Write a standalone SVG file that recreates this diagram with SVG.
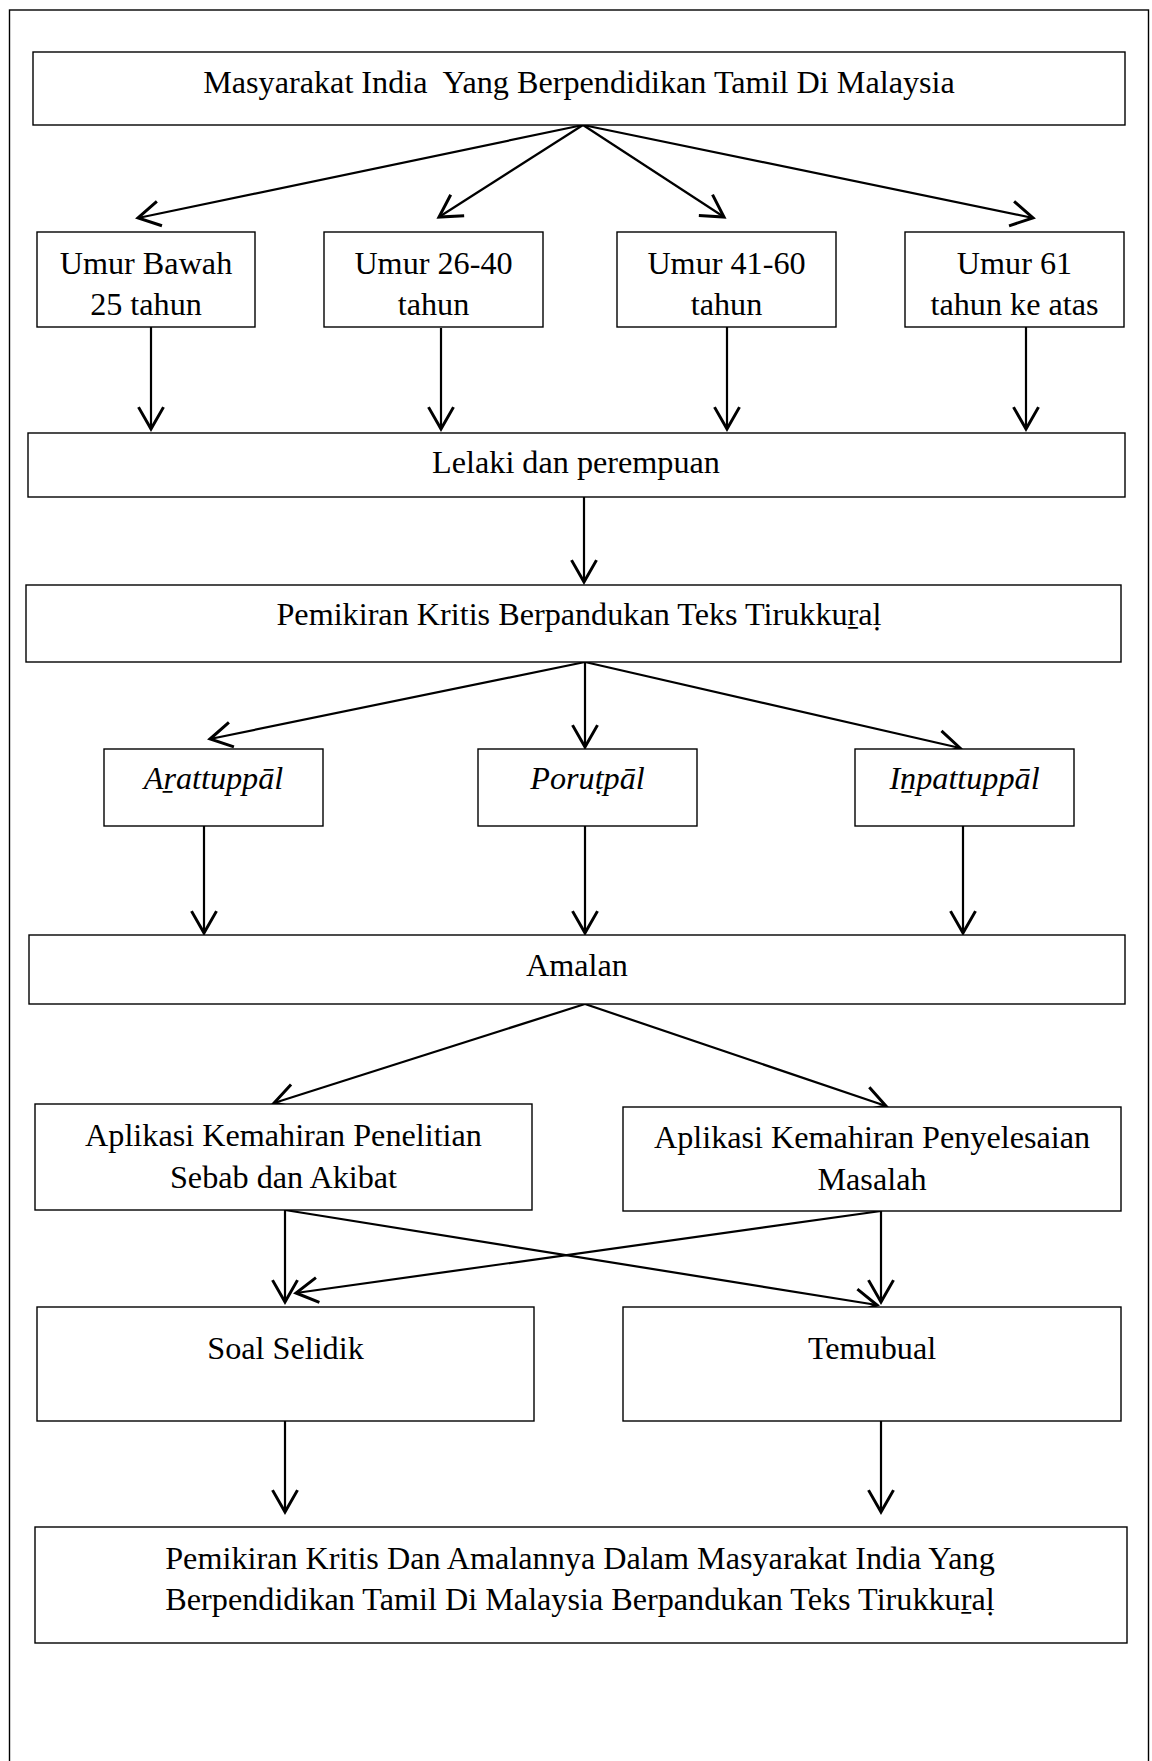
<svg xmlns="http://www.w3.org/2000/svg" width="1152" height="1761" viewBox="0 0 1152 1761">
<style>
.box{fill:#fff;stroke:#000;stroke-width:1.4}
.t{font-family:"Liberation Serif","Times New Roman",serif;font-size:32.2px;fill:#000;text-anchor:middle}
.i{font-style:italic}
.c{fill:none;stroke:#000;stroke-width:2.2}
</style>
<defs>
<marker id="ah" markerUnits="userSpaceOnUse" markerWidth="30" markerHeight="30" viewBox="-20 -12 24 24" refX="0" refY="0" orient="auto">
<path d="M-17.5,-10 L0,0 L-17.5,10" fill="none" stroke="#000" stroke-width="2.4"/>
</marker>
</defs>
<rect x="9.5" y="10" width="1139" height="1770" fill="none" stroke="#000" stroke-width="1.4"/>
<g id="connectors">
<line class="c" x1="583" y1="125" x2="138" y2="218" marker-end="url(#ah)"/>
<line class="c" x1="583" y1="125" x2="439" y2="217" marker-end="url(#ah)"/>
<line class="c" x1="583" y1="125" x2="724" y2="217" marker-end="url(#ah)"/>
<line class="c" x1="583" y1="125" x2="1033" y2="218" marker-end="url(#ah)"/>
<line class="c" x1="151" y1="327" x2="151" y2="429" marker-end="url(#ah)"/>
<line class="c" x1="441" y1="328" x2="441" y2="429" marker-end="url(#ah)"/>
<line class="c" x1="727" y1="326" x2="727" y2="429" marker-end="url(#ah)"/>
<line class="c" x1="1026" y1="327" x2="1026" y2="429" marker-end="url(#ah)"/>
<line class="c" x1="584" y1="497" x2="584" y2="582" marker-end="url(#ah)"/>
<line class="c" x1="585" y1="662" x2="210" y2="739" marker-end="url(#ah)"/>
<line class="c" x1="585" y1="662" x2="585" y2="747" marker-end="url(#ah)"/>
<line class="c" x1="585" y1="662" x2="960" y2="748" marker-end="url(#ah)"/>
<line class="c" x1="204" y1="826" x2="204" y2="933" marker-end="url(#ah)"/>
<line class="c" x1="585" y1="826" x2="585" y2="933" marker-end="url(#ah)"/>
<line class="c" x1="963" y1="826" x2="963" y2="933" marker-end="url(#ah)"/>
<line class="c" x1="585" y1="1004" x2="274" y2="1103" marker-end="url(#ah)"/>
<line class="c" x1="585" y1="1004" x2="886" y2="1106" marker-end="url(#ah)"/>
<line class="c" x1="285" y1="1210" x2="285" y2="1302" marker-end="url(#ah)"/>
<line class="c" x1="285" y1="1210" x2="877" y2="1305" marker-end="url(#ah)"/>
<line class="c" x1="881" y1="1211" x2="881" y2="1302" marker-end="url(#ah)"/>
<line class="c" x1="881" y1="1211" x2="296" y2="1293" marker-end="url(#ah)"/>
<line class="c" x1="285" y1="1421" x2="285" y2="1512" marker-end="url(#ah)"/>
<line class="c" x1="881" y1="1421" x2="881" y2="1512" marker-end="url(#ah)"/>
</g>
<g id="n-top"><rect class="box" x="33" y="52" width="1092" height="73"/><text class="t" x="579" y="93" xml:space="preserve">Masyarakat India  Yang Berpendidikan Tamil Di Malaysia</text></g>
<g id="n-age1"><rect class="box" x="37" y="232" width="218" height="95"/><text class="t" x="146" y="274">Umur Bawah</text><text class="t" x="146" y="315">25 tahun</text></g>
<g id="n-age2"><rect class="box" x="324" y="232" width="219" height="95"/><text class="t" x="433.5" y="274">Umur 26-40</text><text class="t" x="433.5" y="315">tahun</text></g>
<g id="n-age3"><rect class="box" x="617" y="232" width="219" height="95"/><text class="t" x="726.5" y="274">Umur 41-60</text><text class="t" x="726.5" y="315">tahun</text></g>
<g id="n-age4"><rect class="box" x="905" y="232" width="219" height="95"/><text class="t" x="1014.5" y="274">Umur 61</text><text class="t" x="1014.5" y="315">tahun ke atas</text></g>
<g id="n-gender"><rect class="box" x="28" y="433" width="1097" height="64"/><text class="t" x="576" y="473">Lelaki dan perempuan</text></g>
<g id="n-pemikiran"><rect class="box" x="26" y="585" width="1095" height="77"/><text class="t" x="579" y="625">Pemikiran Kritis Berpandukan Teks Tirukkuṟaḷ</text></g>
<g id="n-aram"><rect class="box" x="104" y="749" width="219" height="77"/><text class="t i" x="213.5" y="789">Aṟattuppāl</text></g>
<g id="n-porul"><rect class="box" x="478" y="749" width="219" height="77"/><text class="t i" x="587.5" y="789">Poruṭpāl</text></g>
<g id="n-inbam"><rect class="box" x="855" y="749" width="219" height="77"/><text class="t i" x="964.5" y="789">Iṉpattuppāl</text></g>
<g id="n-amalan"><rect class="box" x="29" y="935" width="1096" height="69"/><text class="t" x="577" y="976">Amalan</text></g>
<g id="n-sebab"><rect class="box" x="35" y="1104" width="497" height="106"/><text class="t" x="283.5" y="1146">Aplikasi Kemahiran Penelitian</text><text class="t" x="283.5" y="1188">Sebab dan Akibat</text></g>
<g id="n-masalah"><rect class="box" x="623" y="1107" width="498" height="104"/><text class="t" x="872" y="1148">Aplikasi Kemahiran Penyelesaian</text><text class="t" x="872" y="1190">Masalah</text></g>
<g id="n-soal"><rect class="box" x="37" y="1307" width="497" height="114"/><text class="t" x="285.5" y="1359">Soal Selidik</text></g>
<g id="n-temubual"><rect class="box" x="623" y="1307" width="498" height="114"/><text class="t" x="872" y="1359">Temubual</text></g>
<g id="n-result"><rect class="box" x="35" y="1527" width="1092" height="116"/><text class="t" x="580" y="1569">Pemikiran Kritis Dan Amalannya Dalam Masyarakat India Yang</text><text class="t" x="580" y="1610">Berpendidikan Tamil Di Malaysia Berpandukan Teks Tirukkuṟaḷ</text></g>
</svg>
